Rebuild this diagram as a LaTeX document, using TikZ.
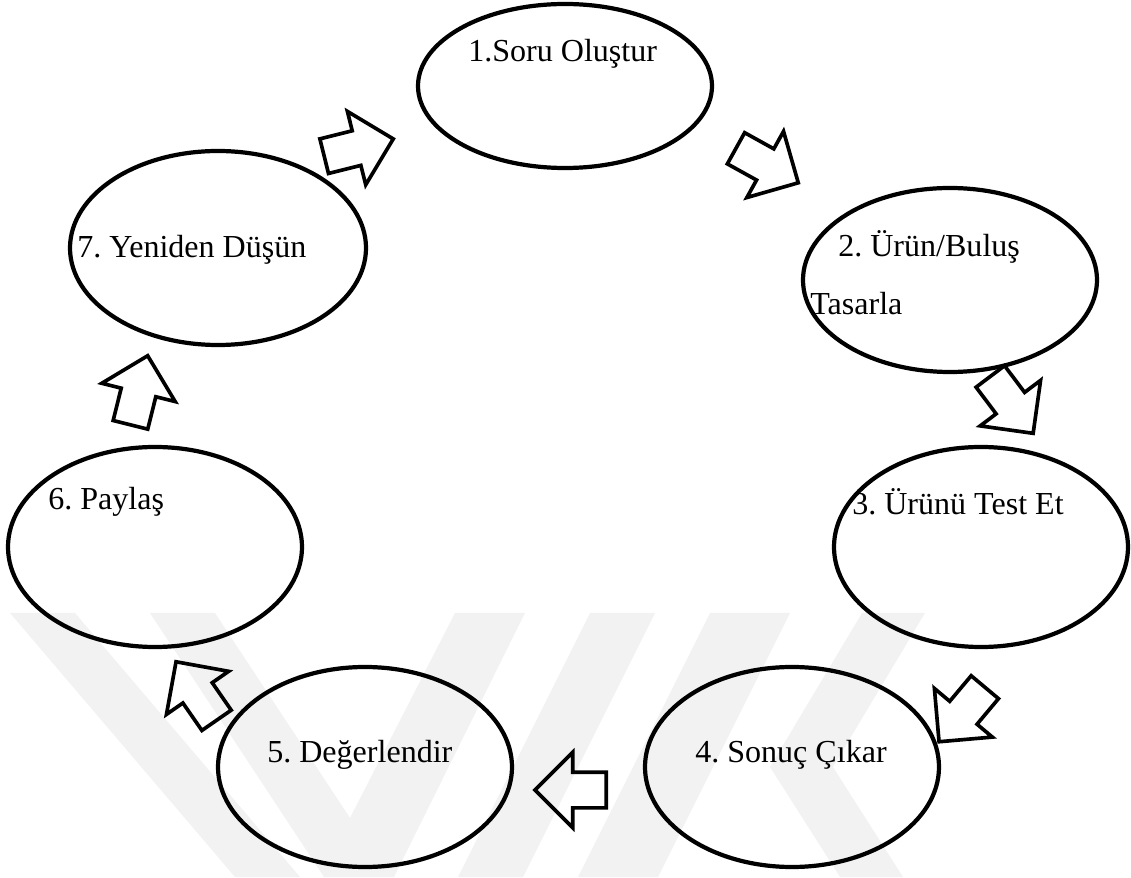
\documentclass[tikz,border=0pt]{standalone}
\usepackage{fontspec}
\setmainfont{Liberation Serif}
\usepackage{tikz}
\usetikzlibrary{shapes.geometric,shapes.arrows}
\frenchspacing

\begin{document}
\begin{tikzpicture}[
  cyc/.style={ellipse,draw,line width=3pt,minimum width=7.35cm,minimum height=5cm,inner sep=0pt},
  blk/.style={single arrow,draw,line width=2.6pt,minimum height=1.78cm,inner xsep=0pt,inner ysep=0.4cm,single arrow head extend=0.5cm,anchor=tail},
  lbl/.style={anchor=base west,inner sep=0pt,font=\fontsize{22.8}{27}\selectfont},
  wm/.style={fill=black!5,draw=none}]
\useasboundingbox (0,0) rectangle (28.275,21.925);
\fill[wm] (0.25,6.6) -- (1.875,6.6) -- (7.5,0) -- (5.875,0) -- cycle;
\fill[wm] (3.75,6.6) -- (5.375,6.6) -- (8.75,1.475) -- (11.375,6.6) -- (13.125,6.6) -- (9.85,0) -- (8.1,0) -- cycle;
\fill[wm] (14.75,6.6) -- (16.375,6.6) -- (13.075,0) -- (11.45,0) -- cycle;
\fill[wm] (17.75,6.6) -- (19.75,6.6) -- (16.45,0) -- (14.45,0) -- cycle;
\fill[wm] (21.55,6.6) -- (23.125,6.6) -- (20.825,2.75) -- (22.575,0) -- (21,0) -- (19.25,2.75) -- cycle;
\node[cyc,minimum height=4.1cm] (s1) at (14.125,19.775) {};
\node[cyc,minimum height=4.6cm] (s2) at (23.75,14.925) {};
\node[cyc] (s3) at (24.525,8.25) {};
\node[cyc] (s4) at (19.8,2.75) {};
\node[cyc] (s5) at (9.125,2.75) {};
\node[cyc] (s6) at (3.875,8.25) {};
\node[cyc,minimum width=7.4cm,minimum height=4.85cm] (s7) at (5.45,15.725) {};
\node[lbl] (t1) at (11.7,20.375) {1.Soru Oluştur};
\node[lbl] (t2) at (20.95,15.5) {2. Ürün/Buluş};
\node[lbl] (t2b) at (20.25,14.05) {Tasarla};
\node[lbl] (t3) at (21.3,9.05) {3. Ürünü Test Et};
\node[lbl] (t4) at (17.375,2.875) {4. Sonuç Çıkar};
\node[lbl] (t5) at (6.675,2.875) {5. Değerlendir};
\node[lbl] (t6) at (1.2,9.175) {6. Paylaş};
\node[lbl] (t7) at (1.925,15.475) {7. Yeniden Düşün};
\node[blk,rotate=14] (a71) at (8.06,18.01) {};
\node[blk,rotate=-29] (a12) at (18.36,18.24) {};
\node[blk,rotate=-53] (a23) at (24.73,12.55) {};
\node[blk,rotate=230] (a34) at (24.65,4.78) {};
\node[blk,rotate=180] (a45) at (15.2,2.175) {};
\node[blk,rotate=124.7] (a56) at (5.44,3.88) {};
\node[blk,rotate=76] (a67) at (3.25,11.26) {};
\end{tikzpicture}
\end{document}
